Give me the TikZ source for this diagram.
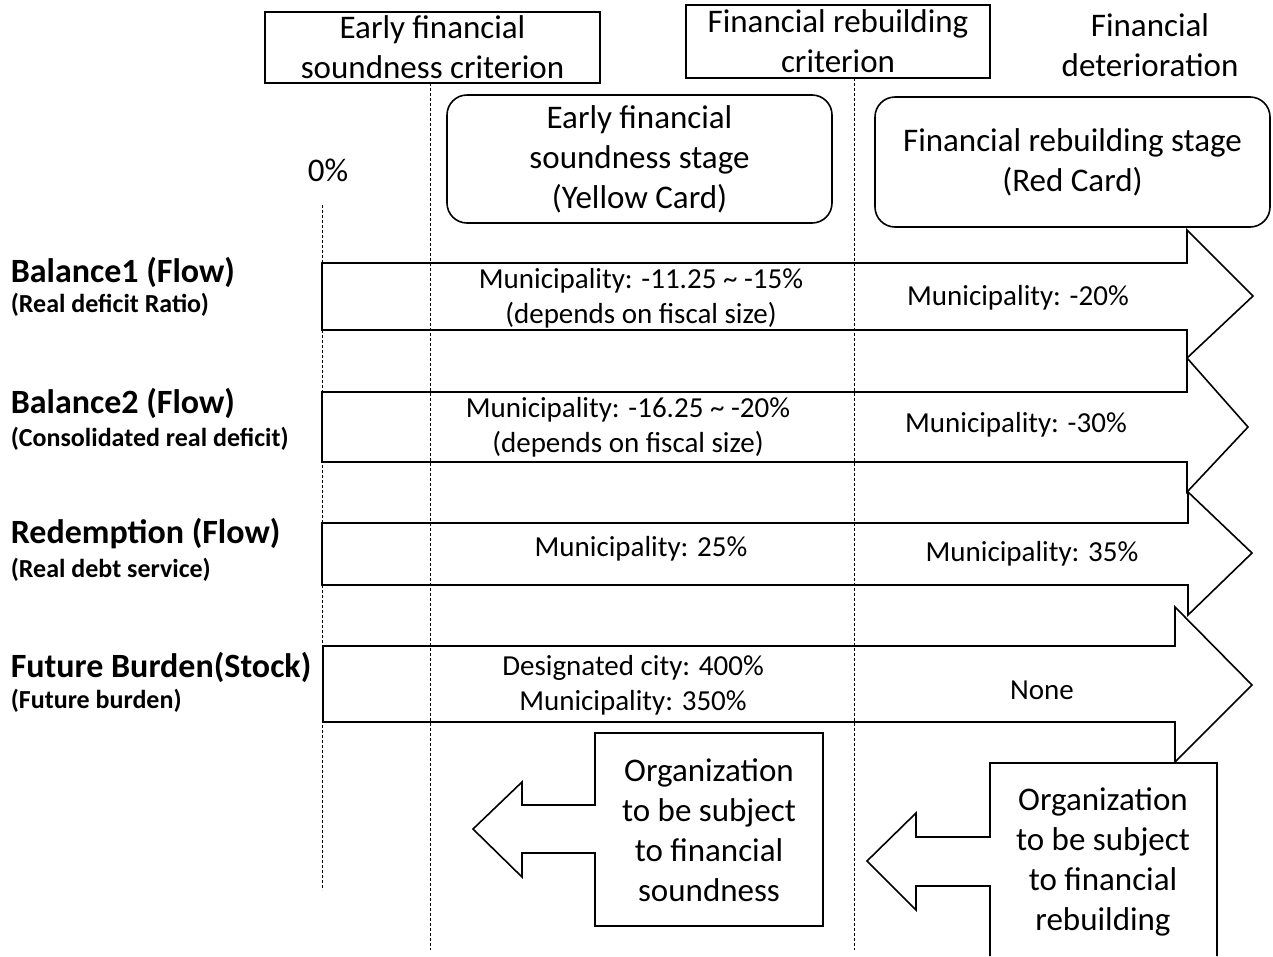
\documentclass[tikz,border=0pt]{standalone}
\usepackage{fontspec}
\setmainfont{Carlito}

\begin{document}
\begin{tikzpicture}[x=1pt, y=-1pt, line width=1.6pt,
  lbl/.style={align=center, inner sep=0pt, font=\fontsize{33}{40}\selectfont},
  crit/.style={lbl, draw},
  stage/.style={lbl, draw, rounded corners=20pt},
  val/.style={align=center, inner sep=0pt, font=\fontsize{29}{35}\selectfont},
  row/.style={anchor=west, inner sep=0pt, font=\fontsize{34}{40}\selectfont\bfseries},
  sub/.style={anchor=west, inner sep=0pt, font=\fontsize{26}{30}\selectfont\bfseries},
  blk/.style={draw, line join=miter},
  guide/.style={draw, line width=0.8pt, dash pattern=on 3pt off 2pt}]

\useasboundingbox (0,0) rectangle (1273,956);

% ---------- Criteria and stages ----------
\node[crit, minimum width=335pt, minimum height=71pt] (esc) at (432.5,47.5) {Early financial\\soundness criterion};
\node[crit, minimum width=304pt, minimum height=73pt] (frc) at (838,41.5) {Financial rebuilding\\criterion};
\node[lbl] (fd) at (1150,45) {Financial\\deterioration};

\node[stage, minimum width=385pt, minimum height=128pt] (yel) at (639.5,159) {Early financial\\soundness stage\\(Yellow Card)};
\node[stage, minimum width=395pt, minimum height=130pt] (red) at (1072.5,162) {Financial rebuilding stage\\(Red Card)};

\node[lbl] (zero) at (328,170) {0\%};

% Guide lines
\draw[guide] (322,205) -- (322,890);
\draw[guide] (430,83) -- (430,950);
\draw[guide] (854,78) -- (854,950);

% ---------- Indicator arrows ----------
\draw[blk] (322,263) -- (1187,263) -- (1187,230) -- (1253,296) -- (1187,358) -- (1187,330) -- (322,330) -- cycle;
\draw[blk] (322,392) -- (1187,392) -- (1187,358) -- (1248,427) -- (1187,492) -- (1187,462) -- (322,462) -- cycle;
\draw[blk] (322,523) -- (1188,523) -- (1188,492) -- (1252,553) -- (1188,615) -- (1188,585) -- (322,585) -- cycle;
\draw[blk] (323,646) -- (1175,646) -- (1175,607) -- (1252,685) -- (1175,762) -- (1175,722) -- (323,722) -- cycle;

\node[val] (b1y) at (641,298) {Municipality: -11.25 \textasciitilde{} -15\%\\(depends on fiscal size)};
\node[val] (b1r) at (1018,298) {Municipality: -20\%};
\node[val] (b2y) at (628,427) {Municipality: -16.25 \textasciitilde{} -20\%\\(depends on fiscal size)};
\node[val] (b2r) at (1016,425) {Municipality: -30\%};
\node[val] (rdy) at (641,549) {Municipality: 25\%};
\node[val] (rdr) at (1032,554) {Municipality: 35\%};
\node[val] (fby) at (633,685) {Designated city: 400\%\\Municipality: 350\%};
\node[val] (fbr) at (1042,690) {None};

% ---------- Row labels ----------
\node[row] (b1) at (10,272) {Balance1 (Flow)};
\node[sub] (b1s) at (10,305) {(Real deficit Ratio)};
\node[row] (b2) at (10,403) {Balance2 (Flow)};
\node[sub] (b2s) at (10,439) {(Consolidated real deficit)};
\node[row] (rd) at (10,534) {Redemption (Flow)};
\node[sub] (rds) at (10,570) {(Real debt service)};
\node[row] (fb) at (10,667) {Future Burden(Stock)};
\node[sub] (fbs) at (10,701) {(Future burden)};

% ---------- Subject organizations ----------
\draw[blk] (595,733) -- (823,733) -- (823,926) -- (595,926) -- (595,853) -- (522,853) -- (522,877)
  -- (473,829) -- (522,782) -- (522,805) -- (595,805) -- cycle;
\node[lbl] (sound) at (709,830) {Organization\\to be subject\\to financial\\soundness};

\draw[blk] (1217,956) -- (1217,763) -- (990,763) -- (990,837) -- (916,837) -- (916,813)
  -- (867,861) -- (916,910) -- (916,886) -- (990,886) -- (990,956);
\node[lbl] (rebuild) at (1103,862) {Organization\\to be subject\\to financial\\rebuilding};

\end{tikzpicture}
\end{document}
